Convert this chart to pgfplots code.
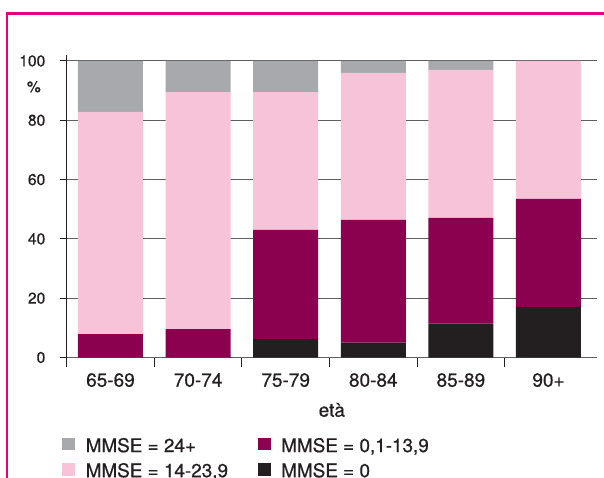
\documentclass[border=0pt]{standalone}
\usepackage{fontspec}
\setmainfont{TeX Gyre Heros}[FakeBold=0.6]
\usepackage{pgfplots}
\pgfplotsset{compat=1.18}
\definecolor{txt}{RGB}{35,31,32}
\definecolor{cgray}{RGB}{167,169,172}
\definecolor{cpink}{RGB}{247,195,217}
\definecolor{cred}{RGB}{140,0,80}
\definecolor{cblack}{RGB}{35,31,32}
\definecolor{framec}{RGB}{230,0,126}
\definecolor{gridc}{RGB}{95,95,98}
\pgfplotsset{sqlegend/.style={legend image code/.code={\fill[##1] (0pt,-4.6pt) rectangle (13.2pt,8.0pt);}}}
\begin{document}
\begin{tikzpicture}[x=1pt,y=1pt]
\useasboundingbox (0,0) rectangle (604,477);
\clip (0,0) rectangle (604,477);
\draw[framec, line width=2.4pt] (6.7,-20) -- (6.7,463.5) -- (640,463.5);
\begin{axis}[
  at={(66.7pt,119.5pt)}, anchor=south west,
  scale only axis, width=530.3pt, height=302.5pt,
  xmin=-0.5, xmax=5.554, ymin=0, ymax=102,
  axis x line*=bottom, axis y line*=left,
  axis line style={txt, line width=0.9pt, -},
  ybar stacked, bar width=65pt,
  clip=false,
  tick align=outside,
  major tick length=9.7pt,
  tick style={txt, line width=0.9pt},
  xtick={-0.5,0.5,1.5,2.5,3.5,4.5},
  xticklabels={65-69,70-74,75-79,80-84,85-89,90+},
  xticklabel style={xshift=43.8pt, yshift=-19.5pt, font=\fontsize{19}{21}\selectfont, text=txt, anchor=base, inner sep=0pt},
  ytick=\empty,
  extra y ticks={0,20,40,60,80,100},
  extra y tick style={major tick length=6.7pt, grid=major},
  grid style={gridc, line width=0.9pt},
  yticklabel style={font=\fontsize{15.6}{18}\selectfont, text=txt, anchor=east, inner sep=0pt, xshift=-14.5pt},
  /pgf/number format/assume math mode=true,
  xlabel={età},
  xlabel style={at={(axis description cs:0.5,0)}, anchor=base, yshift=-59.2pt, inner sep=0pt, font=\fontsize{19}{21}\selectfont, text=txt},
  legend columns=2,
  legend cell align=left,
  legend style={at={(axis description cs:0,0)}, anchor=north west, xshift=-4.7pt, yshift=-80.3pt, draw=none, fill=none, inner sep=0pt, outer sep=0pt, font=\fontsize{18.9}{21}\selectfont, text=txt, row sep=9.3pt, nodes={inner sep=0pt}, /tikz/every odd column/.append style={column sep=10.5pt}, /tikz/every even column/.append style={column sep=29.5pt}},
]
\addplot[fill=cblack, draw=none, forget plot] coordinates {(0,0) (1,0) (2,6.2) (3,5.0) (4,11.4) (5,17.0)};
\addplot[fill=cred, draw=none, forget plot] coordinates {(0,7.9) (1,9.6) (2,36.8) (3,41.4) (4,35.7) (5,36.5)};
\addplot[fill=cpink, draw=none, forget plot] coordinates {(0,74.9) (1,79.9) (2,46.5) (3,49.6) (4,49.9) (5,46.5)};
\addplot[fill=cgray, draw=none, forget plot] coordinates {(0,17.2) (1,10.5) (2,10.5) (3,4.0) (4,3.0) (5,0)};
\addlegendimage{sqlegend, fill=cgray, draw=none}
\addlegendentry{MMSE = 24+}
\addlegendimage{sqlegend, fill=cred, draw=none}
\addlegendentry{MMSE = 0,1-13,9}
\addlegendimage{sqlegend, fill=cpink, draw=none}
\addlegendentry{MMSE = 14-23,9}
\addlegendimage{sqlegend, fill=cblack, draw=none}
\addlegendentry{MMSE = 0}
\node[anchor=east, inner sep=0pt, font=\fontsize{15.6}{18}\selectfont, text=txt] at (axis cs:-0.5,91.3) [xshift=-25.7pt] {\%};
\end{axis}
\end{tikzpicture}
\end{document}
